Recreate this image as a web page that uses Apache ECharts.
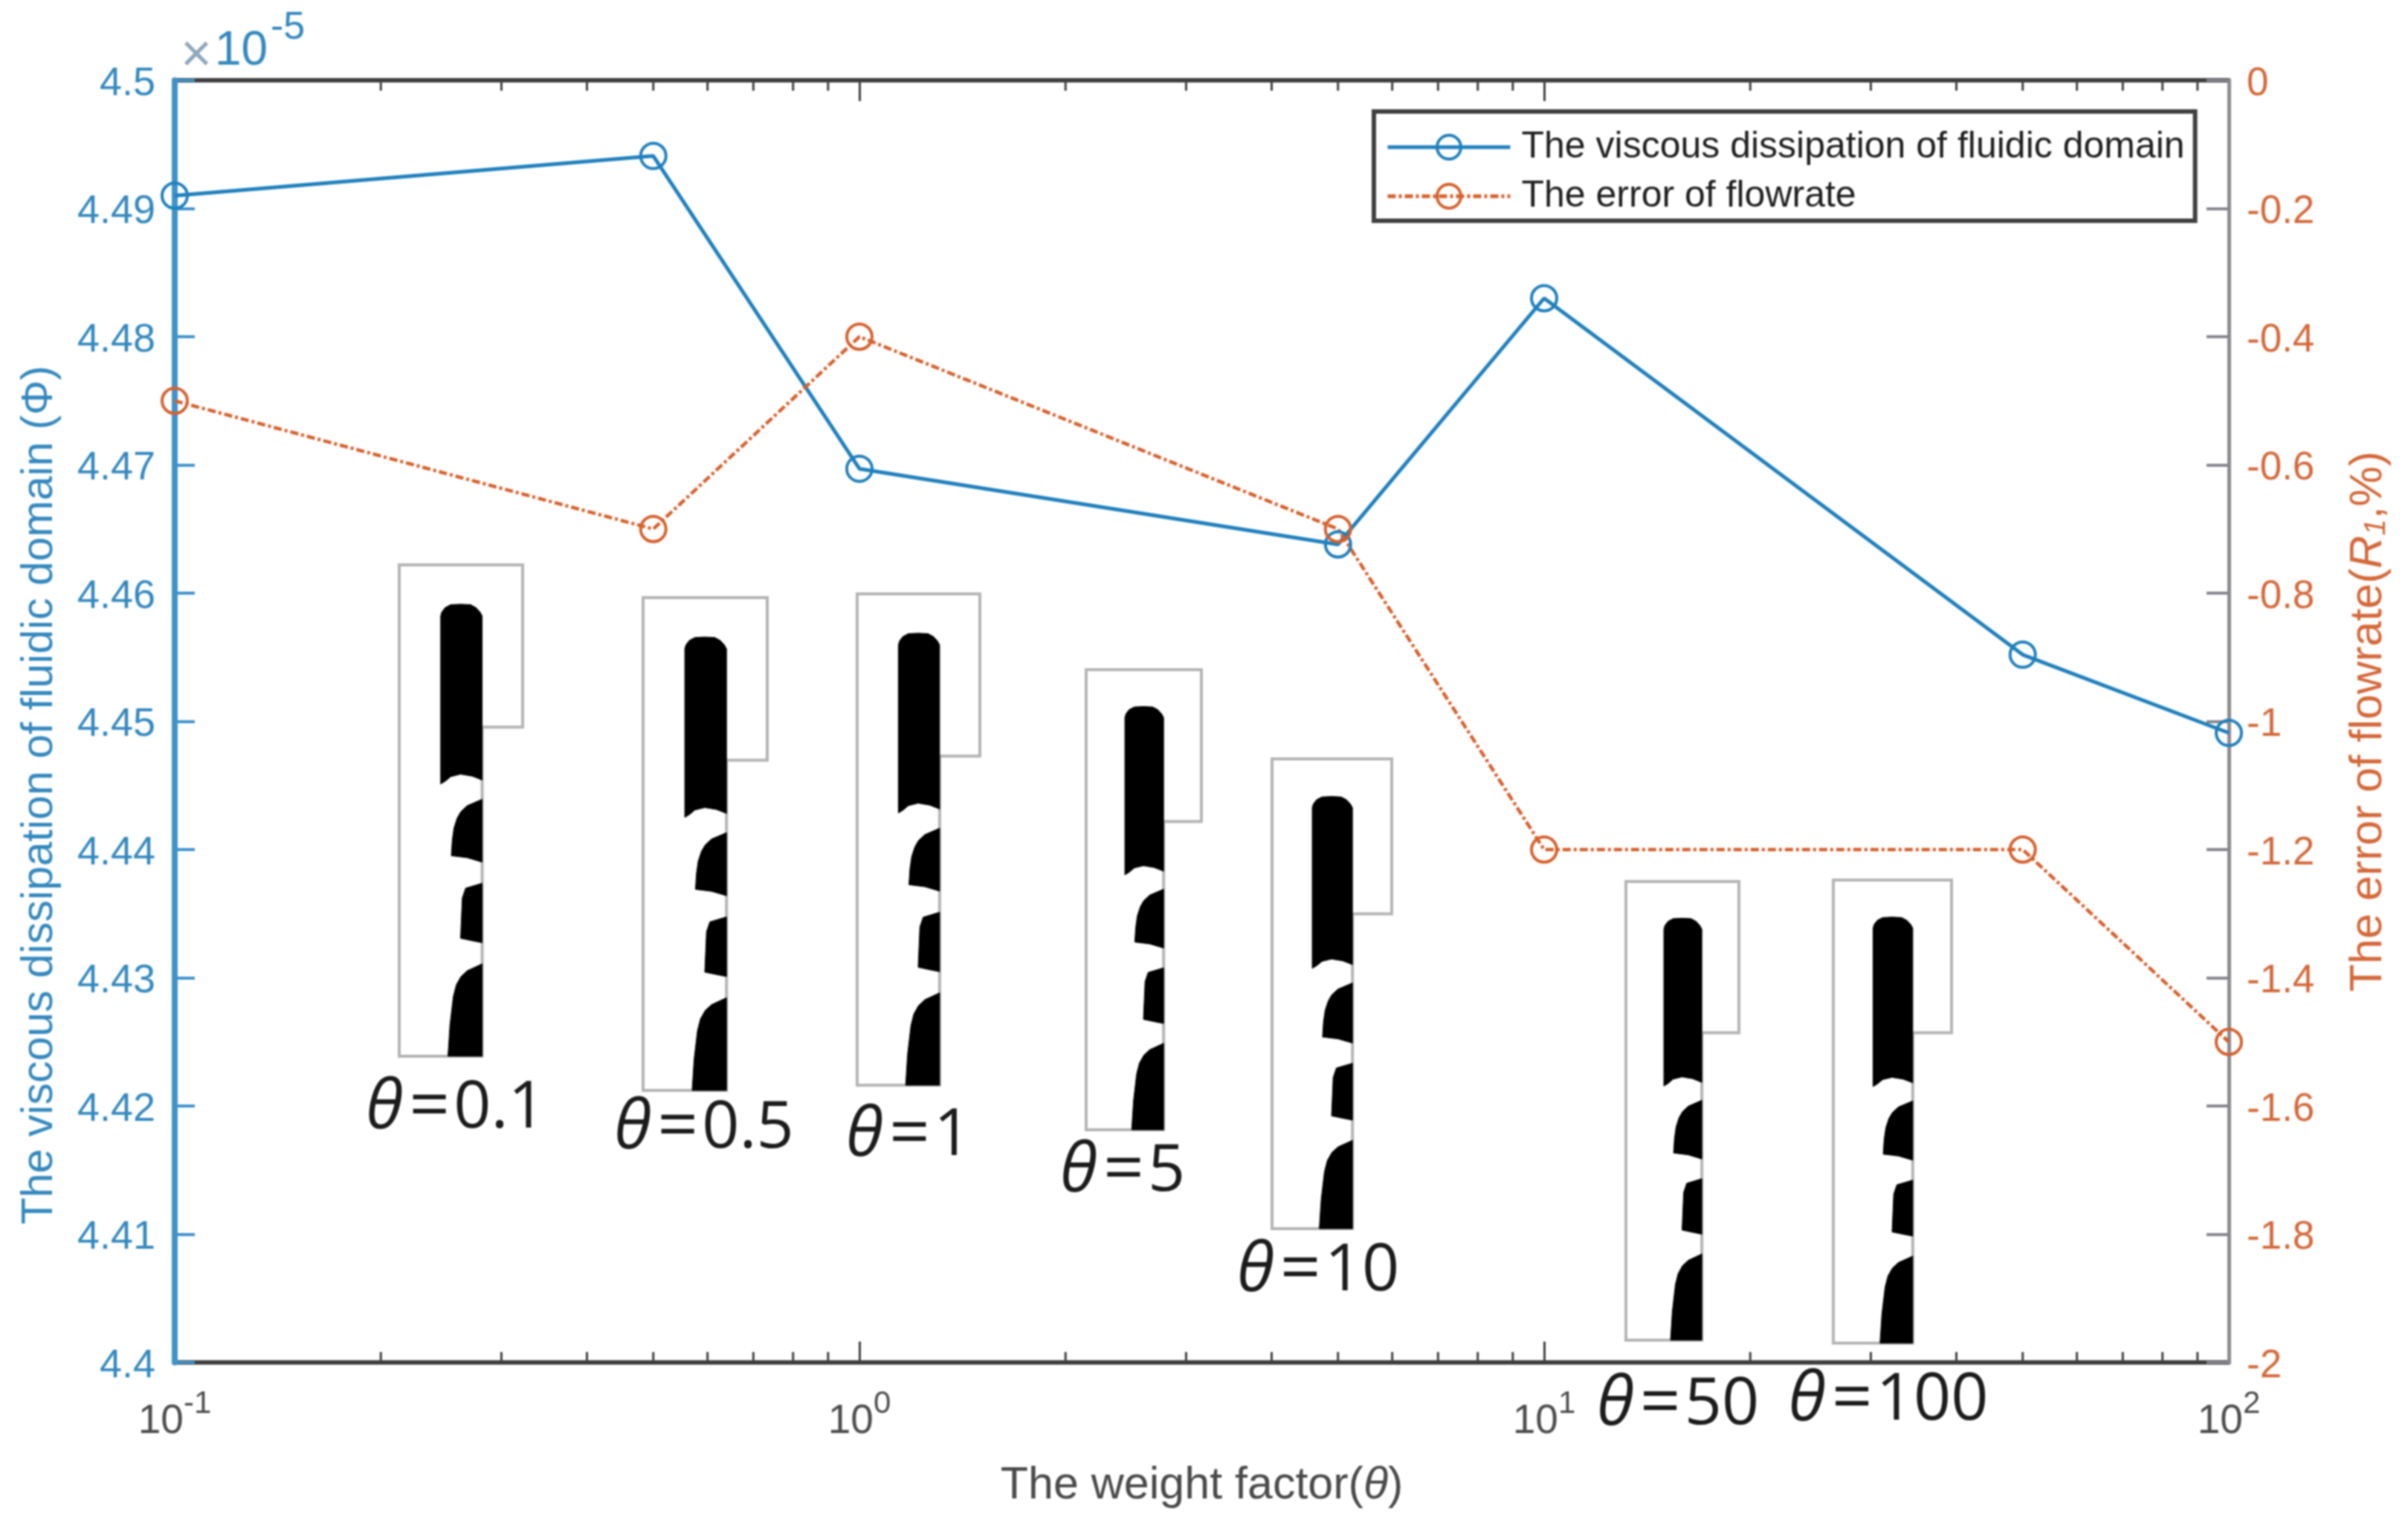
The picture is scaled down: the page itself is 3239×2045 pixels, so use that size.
<!DOCTYPE html>
<html>
<head>
<meta charset="utf-8">
<style>html,body{margin:0;padding:0;background:#fff}#c{width:3239px;height:2045px;filter:blur(0.8px)}</style>
<script src="https://cdn.jsdelivr.net/npm/echarts@6/dist/echarts.min.js"></script>
</head>
<body>
<div id="c"></div>
<script>
const weightFactor = [0.1, 0.5, 1, 5, 10, 50, 100];
const dissipation = [4.491, 4.4941, 4.4697, 4.4638, 4.483, 4.4552, 4.4491];
const flowError = [-0.5, -0.7, -0.4, -0.7, -1.2, -1.2, -1.5];
const minorTicks = [0.2,0.3,0.4,0.5,0.6,0.7,0.8,0.9,2,3,4,5,6,7,8,9,20,30,40,50,60,70,80,90];
const seriesNames = ['The viscous dissipation of fluidic domain', 'The error of flowrate'];
const insetLabels = ['0.1','0.5','1','5','10','50','100'];

const BLUE = '#1f80bd', BLUE_TXT = '#3489bf', RED = '#d6602c', RED_TXT = '#d4693a', DARK = '#404040';
const SANS = '"Liberation Sans", Arial, sans-serif';

// Inset pictures (frame box x0,y0,x1,y1 and label centre)
const insetBoxes = [
  [537, 760, 703, 1421, 613, 1492],
  [865, 804, 1032, 1467, 947, 1519],
  [1153, 799, 1318, 1460, 1222, 1529],
  [1461, 901, 1616, 1520, 1510, 1577],
  [1711, 1021, 1872, 1653, 1773, 1711],
  [2187, 1186, 2339, 1803, 2257, 1891],
  [2466, 1184, 2625, 1807, 2540, 1885]
];
const frameShape = [[0,0],[1,0],[1,.33],[.672,.33],[.672,1],[0,1]];
const blackShapes = [
  [[.336,.446],[.336,.104],[.345,.096],[.372,.087],[.417,.081],[.497,.080],[.578,.081],[.622,.087],[.655,.096],[.672,.104],[.672,.438],[.632,.434],[.591,.430],[.497,.426],[.417,.431],[.375,.440]],
  [[.672,.477],[.551,.490],[.500,.502],[.470,.515],[.444,.535],[.430,.560],[.422,.592],[.551,.596],[.672,.605]],
  [[.672,.648],[.538,.658],[.511,.678],[.497,.760],[.591,.765],[.672,.769]],
  [[.672,.812],[.551,.826],[.500,.838],[.462,.855],[.438,.879],[.411,.937],[.395,1],[.672,1]]
];

function insetGraphics() {
  const out = [];
  insetBoxes.forEach((b, i) => {
    const map = p => [b[0] + p[0] * (b[2] - b[0]), b[1] + p[1] * (b[3] - b[1])];
    out.push({type:'polygon', z:1, silent:true, shape:{points:frameShape.map(map)},
      style:{fill:'none', stroke:'#b4b4b4', lineWidth:4}});
    blackShapes.forEach(s => out.push({type:'polygon', z:1, silent:true, shape:{points:s.map(map)},
      style:{fill:'#000', stroke:'#000', lineWidth:1}}));
    out.push({type:'text', z:1, silent:true, x:b[4], y:b[5], style:{
      text:'{i|θ}{e|=}{n|' + insetLabels[i] + '}', align:'center', verticalAlign:'middle',
      rich:{
        i:{fontFamily:'"Open Sans"', fontStyle:'italic', fontSize:92, fill:'#1c1c1c'},
        e:{fontFamily:'"Open Sans"', fontSize:96, fill:'#1c1c1c', padding:[0,5,0,8]},
        n:{fontFamily:'"Open Sans"', fontSize:88, fill:'#1c1c1c'}
      }}});
  });
  return out;
}

const chart = echarts.init(document.getElementById('c'), null, {renderer:'canvas'});
const xBase = {
  type:'log', logBase:10, min:0.1, max:100, z:2,
  axisLine:{show:true, onZero:false, lineStyle:{color:DARK, width:6}},
  axisTick:{show:true, inside:true, length:28, lineStyle:{color:DARK, width:3}},
  splitLine:{show:false}, minorTick:{show:false}, minorSplitLine:{show:false}
};
chart.setOption({
  animation:false,
  backgroundColor:'#fff',
  grid:{left:235, right:241, top:108, bottom:212, containLabel:false},
  legend:{
    data:seriesNames, orient:'vertical', left:1848, top:150,
    backgroundColor:'#fff', borderColor:DARK, borderWidth:6, borderRadius:0,
    padding:[23,14,8,16], itemWidth:165, itemHeight:40, itemGap:16,
    lineStyle:{width:5}, itemStyle:{borderWidth:4},
    textStyle:{fontFamily:SANS, fontSize:50, lineHeight:40, color:'#1f1f1f', padding:[0,0,0,10]}
  },
  xAxis:[
    Object.assign({}, xBase, {
      position:'bottom',
      name:'{n|The weight factor(}{i|θ}{n|)}', nameLocation:'middle', nameGap:136,
      nameTextStyle:{rich:{
        n:{fontFamily:SANS, fontSize:61, color:'#4a4a4a'},
        i:{fontFamily:SANS, fontStyle:'italic', fontSize:61, color:'#4a4a4a'}}},
      axisLabel:{show:true, margin:35, formatter:v => {
        const e = Math.round(Math.log10(v));
        return '{b|10}{s|' + e + '}';
      }, rich:{
        b:{fontFamily:SANS, fontSize:55, color:'#4d4d4d', verticalAlign:'bottom', lineHeight:50},
        s:{fontFamily:SANS, fontSize:42, color:'#4d4d4d', verticalAlign:'top', lineHeight:72}
      }}
    }),
    Object.assign({}, xBase, {position:'top', axisLabel:{show:false}})
  ],
  yAxis:[
    {
      type:'value', min:4.4, max:4.5, interval:0.01, position:'left', z:3,
      name:'The viscous dissipation of fluidic domain (Φ)', nameLocation:'middle', nameGap:152, nameRotate:90,
      nameTextStyle:{fontFamily:SANS, fontSize:59, color:BLUE_TXT, padding:[0,198,0,0]},
      axisLine:{show:true, onZero:false, lineStyle:{color:'#3f93cb', width:8}},
      axisTick:{show:true, inside:true, length:27, lineStyle:{color:'#3f93cb', width:4}},
      axisLabel:{margin:26, formatter:v => '{a|' + (+v.toFixed(2)) + '}',
        rich:{a:{fontFamily:SANS, fontSize:54, color:BLUE_TXT, padding:[10,0,0,0]}}},
      splitLine:{show:false}
    },
    {
      type:'value', min:-2, max:0, interval:0.2, position:'right', z:3,
      name:'{n|The error of flowrate(}{i|R}{u|1}{n|,%)}', nameLocation:'middle', nameGap:158, nameRotate:90,
      nameTextStyle:{rich:{
        n:{fontFamily:SANS, fontSize:61, color:RED_TXT},
        i:{fontFamily:SANS, fontStyle:'italic', fontSize:61, color:RED_TXT},
        u:{fontFamily:SANS, fontStyle:'italic', fontSize:40, color:RED_TXT, verticalAlign:'bottom'}}},
      axisLine:{show:true, onZero:false, lineStyle:{color:'#8d8a8e', width:5}},
      axisTick:{show:true, inside:true, length:30, lineStyle:{color:'#85858f', width:4}},
      axisLabel:{margin:24, formatter:v => '{a|' + (+v.toFixed(1)) + '}',
        rich:{a:{fontFamily:SANS, fontSize:53, color:RED_TXT, padding:[10,0,0,0]}}},
      splitLine:{show:false}
    }
  ],
  series:[
    {
      name:'minor', type:'custom', xAxisIndex:0, yAxisIndex:0, silent:true, clip:false, z:1,
      data:minorTicks.map(v => [v, 4.4]),
      renderItem:(p, api) => {
        const v = api.value(0);
        const b = api.coord([v, 4.4]), t = api.coord([v, 4.5]);
        const style = {stroke:DARK, lineWidth:3};
        return {type:'group', children:[
          {type:'line', shape:{x1:b[0], y1:b[1], x2:b[0], y2:b[1]-14}, style},
          {type:'line', shape:{x1:t[0], y1:t[1], x2:t[0], y2:t[1]+14}, style}
        ]};
      }
    },
    {
      name:seriesNames[0], type:'line', xAxisIndex:0, yAxisIndex:0, clip:false, z:5,
      data:weightFactor.map((x, i) => [x, dissipation[i]]),
      symbol:'circle', symbolSize:34,
      lineStyle:{color:BLUE, width:5},
      itemStyle:{color:'rgba(255,255,255,0)', borderColor:BLUE, borderWidth:4}
    },
    {
      name:seriesNames[1], type:'line', xAxisIndex:0, yAxisIndex:1, clip:false, z:5,
      data:weightFactor.map((x, i) => [x, flowError[i]]),
      symbol:'circle', symbolSize:34,
      lineStyle:{color:RED, width:4.5, type:[11,4,4,4]},
      itemStyle:{color:'rgba(255,255,255,0)', borderColor:RED, borderWidth:4}
    }
  ],
  graphic:{elements:insetGraphics().concat([
    {type:'text', x:243, y:112, silent:true, style:{text:'×', fontFamily:SANS, fontSize:72, fill:'#8fa8bd', align:'left', verticalAlign:'bottom'}},
    {type:'text', x:289, y:101, silent:true, style:{text:'10', fontFamily:SANS, fontSize:64, fill:BLUE_TXT, align:'left', verticalAlign:'bottom'}},
    {type:'text', x:364, y:64, silent:true, style:{text:'-5', fontFamily:SANS, fontSize:52, fill:BLUE_TXT, align:'left', verticalAlign:'bottom'}}
  ])}
});
</script>
</body>
</html>
